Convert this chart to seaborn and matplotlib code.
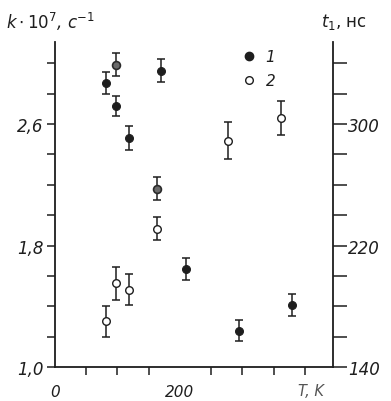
import numpy as np
import pandas as pd
import matplotlib
matplotlib.use("Agg")
import matplotlib.pyplot as plt
import seaborn as sns

# --- data ---
# series 1: rate constant k*10^7, s^-1 (left axis)
T_k = [82, 98, 118, 169, 209, 294, 380]
k_val = [2.87, 2.72, 2.51, 2.95, 1.645, 1.24, 1.41]
k_err = [0.07, 0.066, 0.08, 0.075, 0.07, 0.072, 0.072]
# two series-1 points printed in half-tone
T_k_half = [97, 164]
k_half = [2.99, 2.175]
k_half_err = [0.076, 0.075]
# series 2: t1, ns (right axis)
T_t = [82, 97, 118, 164, 277, 362]
t_val = [170, 195, 191, 231, 289, 304]
t_err = [10, 11, 10, 7.5, 12, 11]

k_ticks = [1.0, 1.8, 2.6]
k_ticklabels = ["1,0", "1,8", "2,6"]
t_ticks = [140, 220, 300]
t_ticklabels = ["140", "220", "300"]
T_ticks = [0, 200]
T_ticklabels = ["0", "200"]

sns.set_style("ticks")
plt.rcParams["font.family"] = ["DejaVu Sans"]
ink = "#1e1e1e"

fig = plt.figure(figsize=(3.91, 4.02), dpi=100)
ax = fig.add_axes([0.1407, 0.0846, 0.711, 0.8084])
ax2 = ax.twinx()

df_k = pd.DataFrame({"T": T_k, "k": k_val})
df_h = pd.DataFrame({"T": T_k_half, "k": k_half})
df_t = pd.DataFrame({"T": T_t, "t": t_val})

eb = dict(fmt="none", ecolor=ink, elinewidth=1.1, capsize=3.0, capthick=1.1, zorder=2)
ax.errorbar(T_k, k_val, yerr=k_err, **eb)
ax.errorbar(T_k_half, k_half, yerr=k_half_err, **eb)
ax2.errorbar(T_t, t_val, yerr=t_err, **eb)

sns.scatterplot(data=df_k, x="T", y="k", ax=ax, s=32, color=ink,
                edgecolor=ink, linewidth=0.8, zorder=3)
sns.scatterplot(data=df_h, x="T", y="k", ax=ax, s=32, color="#6a6a6a",
                edgecolor="#2a2a2a", linewidth=1.2, zorder=3)
sns.scatterplot(data=df_t, x="T", y="t", ax=ax2, s=30, color="white",
                edgecolor=ink, linewidth=1.0, zorder=3)

ax.set_xlim(0, 445)
ax.set_ylim(1.0, 3.14)
ax2.set_ylim(140, 354)

# ticks
ax.set_xticks(T_ticks)
ax.set_xticklabels(T_ticklabels)
ax.set_xticks(np.arange(50, 401, 50), minor=True)
ax.set_yticks(k_ticks)
ax.set_yticklabels(k_ticklabels)
ax.set_yticks(np.arange(1.0, 3.01, 0.2), minor=True)
ax2.set_yticks(t_ticks)
ax2.set_yticklabels(t_ticklabels)
ax2.set_yticks(np.arange(140, 341, 20), minor=True)

for a in (ax, ax2):
    a.set_xlabel("")
    a.set_ylabel("")
    a.spines["top"].set_visible(False)
    for s in a.spines.values():
        s.set_color(ink)
        s.set_linewidth(1.3)
ax.spines["right"].set_visible(False)
ax2.spines["left"].set_visible(False)
ax2.spines["bottom"].set_visible(False)

ax.tick_params(axis="both", which="both", direction="out", length=6, width=1.1,
               color=ink, labelcolor=ink, labelsize=12)
ax.tick_params(axis="x", which="major", length=0, pad=12, labelsize=11)
ax.tick_params(axis="y", which="major", pad=2)
ax2.tick_params(axis="y", which="both", direction="out", length=10, width=1.1,
                color=ink, labelcolor=ink, labelsize=12, pad=1)
for lab in ax.get_xticklabels() + ax.get_yticklabels() + ax2.get_yticklabels():
    lab.set_style("italic")

ax.text(410, -0.072, "T, K", transform=ax.get_xaxis_transform(), ha="center",
        va="center", fontsize=10.5, style="italic", color="#555555")

fig.text(0.015, 0.945, r"$k\cdot10^{7}$, с$^{-1}$", fontsize=12, color=ink,
         ha="left", va="center", style="italic")
fig.text(0.82, 0.945, r"$t_{1}$, нс", fontsize=12, color=ink,
         ha="left", va="center")

# legend
leg_h = [
    plt.Line2D([], [], marker="o", ls="", color=ink, markersize=6),
    plt.Line2D([], [], marker="o", ls="", markerfacecolor="white",
               markeredgecolor=ink, markersize=5.5, markeredgewidth=1.0),
]
leg = ax.legend(leg_h, ["1", "2"], loc="upper left", bbox_to_anchor=(0.62, 1.02),
                frameon=False, handlelength=1.0, handletextpad=0.6,
                labelspacing=0.6, fontsize=11)
for t in leg.get_texts():
    t.set_style("italic")
    t.set_color(ink)

fig.savefig("out.png", dpi=100)
